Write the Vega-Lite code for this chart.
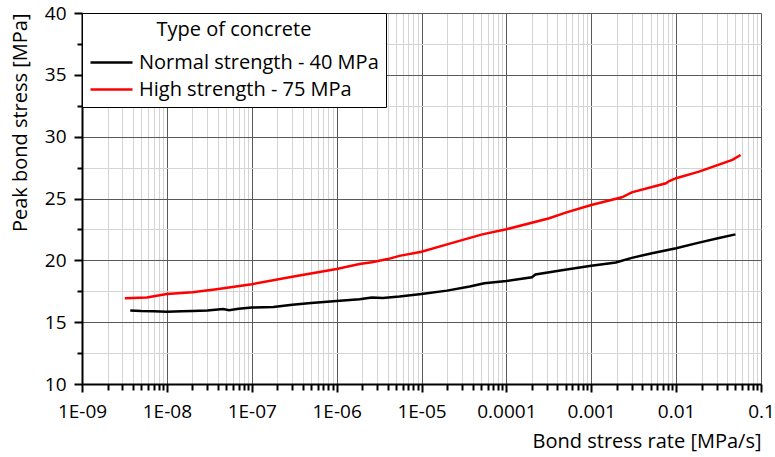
{
  "$schema": "https://vega.github.io/schema/vega-lite/v6.json",
  "width": 679,
  "height": 371,
  "autosize": "none",
  "padding": {"left": 82, "top": 13, "right": 14, "bottom": 73},
  "config": {
    "view": {"stroke": null},
    "font": "Open Sans",
    "axis": {
      "labelFont": "Open Sans", "titleFont": "Open Sans",
      "labelFontSize": 19, "titleFontSize": 20,
      "labelColor": "#000", "titleColor": "#000",
      "titleFontWeight": "normal",
      "domainColor": "#000", "domainWidth": 2,
      "tickColor": "#000", "tickWidth": 2
    },
    "legend": {"labelFont": "Open Sans", "titleFont": "Open Sans"}
  },
  "data": {"values": [
    {"rate": 3.7e-9, "stress": 15.95, "series": "Normal strength - 40 MPa"},
    {"rate": 5e-9, "stress": 15.9, "series": "Normal strength - 40 MPa"},
    {"rate": 7e-9, "stress": 15.88, "series": "Normal strength - 40 MPa"},
    {"rate": 1e-8, "stress": 15.85, "series": "Normal strength - 40 MPa"},
    {"rate": 1.5e-8, "stress": 15.88, "series": "Normal strength - 40 MPa"},
    {"rate": 2e-8, "stress": 15.9, "series": "Normal strength - 40 MPa"},
    {"rate": 3e-8, "stress": 15.95, "series": "Normal strength - 40 MPa"},
    {"rate": 4.6e-8, "stress": 16.07, "series": "Normal strength - 40 MPa"},
    {"rate": 5.4e-8, "stress": 15.97, "series": "Normal strength - 40 MPa"},
    {"rate": 7e-8, "stress": 16.08, "series": "Normal strength - 40 MPa"},
    {"rate": 1e-7, "stress": 16.18, "series": "Normal strength - 40 MPa"},
    {"rate": 1.8e-7, "stress": 16.22, "series": "Normal strength - 40 MPa"},
    {"rate": 3e-7, "stress": 16.4, "series": "Normal strength - 40 MPa"},
    {"rate": 5e-7, "stress": 16.55, "series": "Normal strength - 40 MPa"},
    {"rate": 1e-6, "stress": 16.72, "series": "Normal strength - 40 MPa"},
    {"rate": 1.86e-6, "stress": 16.85, "series": "Normal strength - 40 MPa"},
    {"rate": 2.6e-6, "stress": 17.0, "series": "Normal strength - 40 MPa"},
    {"rate": 3.5e-6, "stress": 16.96, "series": "Normal strength - 40 MPa"},
    {"rate": 5.5e-6, "stress": 17.07, "series": "Normal strength - 40 MPa"},
    {"rate": 1e-5, "stress": 17.28, "series": "Normal strength - 40 MPa"},
    {"rate": 2e-5, "stress": 17.55, "series": "Normal strength - 40 MPa"},
    {"rate": 3.7e-5, "stress": 17.88, "series": "Normal strength - 40 MPa"},
    {"rate": 5.5e-5, "stress": 18.15, "series": "Normal strength - 40 MPa"},
    {"rate": 1e-4, "stress": 18.33, "series": "Normal strength - 40 MPa"},
    {"rate": 2e-4, "stress": 18.63, "series": "Normal strength - 40 MPa"},
    {"rate": 2.2e-4, "stress": 18.85, "series": "Normal strength - 40 MPa"},
    {"rate": 4.5e-4, "stress": 19.2, "series": "Normal strength - 40 MPa"},
    {"rate": 1e-3, "stress": 19.57, "series": "Normal strength - 40 MPa"},
    {"rate": 1.95e-3, "stress": 19.82, "series": "Normal strength - 40 MPa"},
    {"rate": 3e-3, "stress": 20.2, "series": "Normal strength - 40 MPa"},
    {"rate": 5.2e-3, "stress": 20.57, "series": "Normal strength - 40 MPa"},
    {"rate": 1e-2, "stress": 20.98, "series": "Normal strength - 40 MPa"},
    {"rate": 1.86e-2, "stress": 21.43, "series": "Normal strength - 40 MPa"},
    {"rate": 3.2e-2, "stress": 21.8, "series": "Normal strength - 40 MPa"},
    {"rate": 5e-2, "stress": 22.1, "series": "Normal strength - 40 MPa"},
    {"rate": 3.2e-9, "stress": 16.94, "series": "High strength - 75 MPa"},
    {"rate": 5.8e-9, "stress": 16.99, "series": "High strength - 75 MPa"},
    {"rate": 1e-8, "stress": 17.28, "series": "High strength - 75 MPa"},
    {"rate": 2e-8, "stress": 17.42, "series": "High strength - 75 MPa"},
    {"rate": 3.85e-8, "stress": 17.66, "series": "High strength - 75 MPa"},
    {"rate": 1e-7, "stress": 18.07, "series": "High strength - 75 MPa"},
    {"rate": 3e-7, "stress": 18.68, "series": "High strength - 75 MPa"},
    {"rate": 1e-6, "stress": 19.3, "series": "High strength - 75 MPa"},
    {"rate": 1.86e-6, "stress": 19.71, "series": "High strength - 75 MPa"},
    {"rate": 2.6e-6, "stress": 19.85, "series": "High strength - 75 MPa"},
    {"rate": 4e-6, "stress": 20.1, "series": "High strength - 75 MPa"},
    {"rate": 5.5e-6, "stress": 20.36, "series": "High strength - 75 MPa"},
    {"rate": 1e-5, "stress": 20.7, "series": "High strength - 75 MPa"},
    {"rate": 2.1e-5, "stress": 21.33, "series": "High strength - 75 MPa"},
    {"rate": 5.2e-5, "stress": 22.1, "series": "High strength - 75 MPa"},
    {"rate": 1e-4, "stress": 22.51, "series": "High strength - 75 MPa"},
    {"rate": 3.2e-4, "stress": 23.4, "series": "High strength - 75 MPa"},
    {"rate": 5e-4, "stress": 23.86, "series": "High strength - 75 MPa"},
    {"rate": 1e-3, "stress": 24.48, "series": "High strength - 75 MPa"},
    {"rate": 2.3e-3, "stress": 25.1, "series": "High strength - 75 MPa"},
    {"rate": 3e-3, "stress": 25.5, "series": "High strength - 75 MPa"},
    {"rate": 7.6e-3, "stress": 26.23, "series": "High strength - 75 MPa"},
    {"rate": 8.3e-3, "stress": 26.41, "series": "High strength - 75 MPa"},
    {"rate": 1e-2, "stress": 26.64, "series": "High strength - 75 MPa"},
    {"rate": 1.86e-2, "stress": 27.17, "series": "High strength - 75 MPa"},
    {"rate": 4.6e-2, "stress": 28.12, "series": "High strength - 75 MPa"},
    {"rate": 5.75e-2, "stress": 28.52, "series": "High strength - 75 MPa"}
  ]},
  "mark": {"type": "line", "strokeWidth": 2.5},
  "encoding": {
    "x": {
      "field": "rate", "type": "quantitative",
      "scale": {"type": "log", "domain": [1e-9, 0.1]},
      "title": "Bond stress rate [MPa/s]",
      "axis": {
        "values": [1e-9,2e-9,3e-9,4e-9,5e-9,6e-9,7e-9,8e-9,9e-9,1e-8,2e-8,3e-8,4e-8,5e-8,6e-8,7e-8,8e-8,9e-8,1e-7,2e-7,3e-7,4e-7,5e-7,6e-7,7e-7,8e-7,9e-7,1e-6,2e-6,3e-6,4e-6,5e-6,6e-6,7e-6,8e-6,9e-6,1e-5,2e-5,3e-5,4e-5,5e-5,6e-5,7e-5,8e-5,9e-5,1e-4,2e-4,3e-4,4e-4,5e-4,6e-4,7e-4,8e-4,9e-4,1e-3,2e-3,3e-3,4e-3,5e-3,6e-3,7e-3,8e-3,9e-3,1e-2,2e-2,3e-2,4e-2,5e-2,6e-2,7e-2,8e-2,9e-2,0.1],
        "labelExpr": "abs(log(datum.value)/LN10 - round(log(datum.value)/LN10)) < 0.001 ? (datum.value < 5e-5 ? '1E-0' + (-round(log(datum.value)/LN10)) : format(datum.value, '')) : ''",
        "grid": true,
        "gridColor": {"condition": {"test": "abs(log(datum.value)/LN10 - round(log(datum.value)/LN10)) < 0.001", "value": "#595959"}, "value": "#d4d4d4"},
        "gridWidth": 1,
        "tickSize": {"condition": {"test": "abs(log(datum.value)/LN10 - round(log(datum.value)/LN10)) < 0.001", "value": 8}, "value": 6},
        "labelPadding": 10,
        "labelFlush": false,
        "labelOverlap": false,
        "titleAnchor": "end",
        "titlePadding": 10
      }
    },
    "y": {
      "field": "stress", "type": "quantitative",
      "scale": {"domain": [10, 40], "nice": false},
      "title": "Peak bond stress [MPa]",
      "axis": {
        "values": [10,12.5,15,17.5,20,22.5,25,27.5,30,32.5,35,37.5,40],
        "labelExpr": "datum.value % 5 == 0 ? datum.label : ''",
        "grid": true,
        "gridColor": {"condition": {"test": "datum.value % 5 == 0", "value": "#595959"}, "value": "#d4d4d4"},
        "gridWidth": 1,
        "tickSize": {"condition": {"test": "datum.value % 5 == 0", "value": 8}, "value": 5},
        "labelPadding": 8,
        "labelFlush": false,
        "labelOverlap": false,
        "titleAnchor": "end",
        "titlePadding": 14
      }
    },
    "color": {
      "field": "series", "type": "nominal",
      "scale": {"domain": ["Normal strength - 40 MPa", "High strength - 75 MPa"], "range": ["#000000", "#ff0000"]},
      "legend": {
        "title": "Type of concrete",
        "orient": "top-left",
        "offset": 0,
        "strokeColor": "#000",
        "fillColor": "#ffffff",
        "padding": 7,
        "titleFontSize": 20,
        "titleFontWeight": "normal",
        "titleColor": "#000",
        "titleAnchor": "middle",
        "titlePadding": 6,
        "titleLimit": 500,
        "labelFontSize": 20,
        "labelColor": "#000",
        "labelLimit": 500,
        "labelOffset": 17,
        "symbolType": "M-1,0L1.8,0",
        "symbolSize": 900,
        "symbolStrokeWidth": 2.5,
        "rowPadding": 0
      }
    }
  }
}
